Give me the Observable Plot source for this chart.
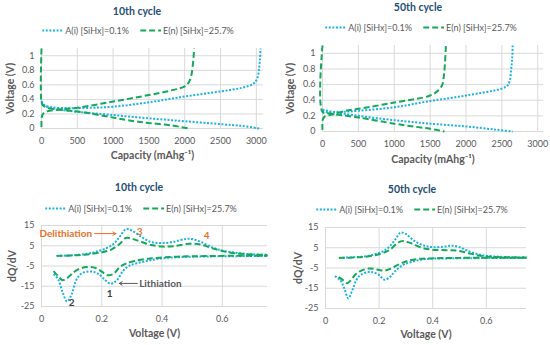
<!DOCTYPE html>
<html><head><meta charset="utf-8">
<script src="https://cdn.jsdelivr.net/npm/d3@7"></script>
<script src="https://cdn.jsdelivr.net/npm/@observablehq/plot@0.6"></script>
<style>
body{margin:0;background:#fff;font-family:Lato,"Noto Sans",sans-serif;}
#root{position:relative;width:550px;height:345px;overflow:hidden;background:#fff;}
.title{position:absolute;font-weight:bold;color:#1f4e79;font-size:10.5px;transform:translate(-50%,-50%);white-space:nowrap}
.legend{position:absolute;display:flex;align-items:center;font-size:9px;color:#595959;white-space:nowrap;transform:translate(-50%,-50%)}
.legend svg{margin-right:2px}
.legend .gap{display:inline-block;width:11px}
.wrap{position:absolute}
</style></head><body><div id="root"></div>
<script>
// ---------------- data ----------------
const seriesNames = ["A(i) [SiHx]=0.1%", "E(n) [SiHx]=25.7%"];
const colors = ["#1bb2e8", "#14a85a"];
const titles = ["10th cycle", "50th cycle", "10th cycle", "50th cycle"];

// Voltage profiles: [capacity mAh/g, voltage V]
const A_lith10 = [[0,0.38],[30,0.33],[100,0.29],[250,0.26],[500,0.23],[1000,0.185],[1500,0.14],[2000,0.1],[2500,0.06],[2800,0.035],[3040,0]];
const A_delith10 = [[0,0.37],[40,0.32],[150,0.29],[400,0.28],[700,0.285],[1000,0.3],[1500,0.36],[2000,0.44],[2500,0.51],[2800,0.56],[2950,0.61],[3010,0.68],[3035,0.8],[3050,0.95],[3060,1.1]];
const E_lith10 = [[0,1.1],[0,0.36],[20,0.32],[100,0.28],[300,0.255],[600,0.22],[1000,0.15],[1300,0.1],[1500,0.075],[1800,0.045],[2050,0]];
const E_delith10 = [[0,0.02],[3,0.15],[20,0.2],[80,0.235],[250,0.26],[500,0.285],[1000,0.37],[1500,0.46],[1800,0.52],[2000,0.58],[2060,0.64],[2090,0.72],[2110,0.85],[2125,1.0],[2130,1.1]];

const A_lith50 = [[0,0.28],[100,0.26],[500,0.2],[1000,0.145],[1500,0.1],[2000,0.065],[2400,0.025],[2650,0]];
const A_delith50 = [[0,0.27],[50,0.25],[250,0.25],[500,0.265],[1000,0.31],[1500,0.39],[2000,0.46],[2500,0.55],[2580,0.59],[2610,0.65],[2630,0.8],[2645,0.95],[2650,1.1]];
const E_lith50 = [[0,1.1],[0,0.25],[100,0.23],[500,0.18],[1000,0.1],[1300,0.06],[1500,0.035],[1700,0]];
const E_delith50 = [[0,0.02],[3,0.15],[30,0.19],[150,0.22],[300,0.26],[500,0.29],[1000,0.37],[1500,0.46],[1620,0.53],[1670,0.6],[1690,0.7],[1705,0.85],[1720,1.1]];

// Differential capacity: [voltage V, dQ/dV]
const A_del10 = [[0.05,0],[0.1,0.3],[0.15,1],[0.18,2],[0.21,3.5],[0.24,6],[0.26,9.5],[0.28,13.2],[0.3,12.5],[0.33,9.5],[0.36,7],[0.4,6.3],[0.44,7],[0.48,8.4],[0.5,8.3],[0.53,6.8],[0.57,4],[0.6,2.6],[0.65,1.4],[0.7,0.8],[0.75,0.6]];
const E_del10 = [[0.05,0],[0.1,0.2],[0.15,0.7],[0.2,1.8],[0.23,3],[0.26,6],[0.28,8.8],[0.3,8.5],[0.33,7],[0.36,5.5],[0.4,4.6],[0.44,4.8],[0.49,6],[0.53,5.5],[0.57,3.6],[0.62,1.8],[0.68,0.8],[0.75,0.4]];
const A_lit10 = [[0.04,-9],[0.055,-11.5],[0.07,-18],[0.085,-22.5],[0.1,-19],[0.115,-12],[0.13,-9],[0.15,-7.8],[0.17,-7.8],[0.19,-9],[0.21,-11.8],[0.23,-13.8],[0.25,-12],[0.27,-7.5],[0.29,-5],[0.32,-3.5],[0.36,-2.2],[0.4,-1.2],[0.45,-0.7],[0.5,-0.4],[0.6,-0.2],[0.75,0]];
const E_lit10 = [[0.04,-7.5],[0.055,-10],[0.07,-12],[0.085,-11],[0.1,-9],[0.12,-6.8],[0.15,-5.5],[0.18,-6],[0.2,-7.8],[0.22,-9.6],[0.24,-8.8],[0.26,-5.5],[0.28,-3.8],[0.31,-2.5],[0.35,-1.5],[0.4,-0.8],[0.45,-0.4],[0.5,-0.2],[0.6,0],[0.75,0]];

const A_del50 = [[0.05,0],[0.1,0.3],[0.15,0.8],[0.2,2.5],[0.23,4.5],[0.26,9],[0.28,12.5],[0.3,11.8],[0.33,8.5],[0.37,6],[0.4,5.3],[0.44,5.5],[0.47,6],[0.5,5.3],[0.54,3],[0.58,1.5],[0.62,0.8],[0.7,0.3],[0.75,0.2]];
const E_del50 = [[0.05,0],[0.1,0.2],[0.15,0.6],[0.2,1.8],[0.24,4],[0.27,7.5],[0.29,8.3],[0.32,7.2],[0.36,5],[0.4,4],[0.45,3.8],[0.49,3.6],[0.53,2.5],[0.57,1.2],[0.62,0.5],[0.75,0.2]];
const A_lit50 = [[0.035,-9],[0.055,-11],[0.07,-15],[0.085,-20],[0.1,-16],[0.115,-11],[0.13,-8.5],[0.16,-7],[0.18,-7.2],[0.2,-8.5],[0.22,-10.8],[0.24,-9.5],[0.26,-6.5],[0.29,-3.5],[0.32,-2],[0.36,-0.8],[0.4,-0.4],[0.5,-0.2],[0.75,0]];
const E_lit50 = [[0.05,-9.5],[0.065,-11],[0.08,-12.5],[0.095,-11],[0.11,-8.5],[0.13,-6.5],[0.16,-5.3],[0.18,-5.4],[0.2,-6],[0.22,-6.3],[0.24,-5.5],[0.27,-3.5],[0.3,-1.8],[0.34,-0.6],[0.4,-0.2],[0.5,0],[0.75,0]];

// tick values
const capTicks = [0,500,1000,1500,2000,2500,3000];
const voltTicks = [0,0.2,0.4,0.6,0.8,1];
const dvTicksX = [0,0.2,0.4,0.6];
const dqTicks = [-25,-15,-5,5,15];

// annotations (10th cycle dQ/dV), in data units
const annoEnd = [{x:0.168, y:11, text:"Delithiation", color:"#e8702a"}];
const annoStart = [{x:0.324, y:-13.6, text:"Lithiation", color:"#595959"}];
const annoMid = [
  {x:0.326, y:12, text:"3", color:"#e8702a"},
  {x:0.548, y:10, text:"4", color:"#e8702a"},
  {x:0.226, y:-18.6, text:"1", color:"#404040"},
  {x:0.1, y:-23, text:"2", color:"#404040"}
];
const annoArrows = [
  {x1:0.176, y1:11, x2:0.247, y2:11, color:"#e8702a"},
  {x1:0.318, y1:-13.6, x2:0.258, y2:-13.6, color:"#595959"}
];

// ---------------- drawing ----------------
const dash = ["2 1.6", "6 3"];
const fmt = d => String(+d.toFixed(2));
const root = document.getElementById("root");

function addTitle(text, cx, cy){
  const t = document.createElement("div"); t.className="title"; t.textContent=text;
  t.style.left=cx+"px"; t.style.top=cy+"px"; root.appendChild(t);
}
function addLegend(cx, cy){
  const l = document.createElement("div"); l.className="legend";
  l.style.left=cx+"px"; l.style.top=cy+"px";
  seriesNames.forEach((n,i)=>{
    if(i>0){const g=document.createElement("span");g.className="gap";l.appendChild(g);}
    const s=d3.create("svg").attr("width",21).attr("height",6);
    s.append("line").attr("x1",0).attr("x2",21).attr("y1",3).attr("y2",3)
      .attr("stroke",colors[i]).attr("stroke-width",2).attr("stroke-dasharray",dash[i]);
    l.appendChild(s.node());
    const sp=document.createElement("span"); sp.textContent=n; l.appendChild(sp);
  });
  root.appendChild(l);
}
function lines(curves){
  return curves.map(([pts,i]) => Plot.line(pts, {x:d=>d[0], y:d=>d[1], stroke:colors[i], strokeWidth:2, strokeDasharray:dash[i], strokeLinecap:"butt", strokeLinejoin:"miter", curve:"catmull-rom"}));
}
function panel(cfg){
  const p = Plot.plot({
    width:cfg.w, height:cfg.h,
    marginLeft:cfg.ml, marginRight:cfg.mr, marginTop:cfg.mt, marginBottom:cfg.mb,
    x:{domain:cfg.xd}, y:{domain:cfg.yd},
    style:{fontFamily:"Lato, 'Noto Sans', sans-serif", fontSize:"9px", color:"#595959", background:"white"},
    marks:[
      Plot.gridX(cfg.xt, {stroke:"#d9d9d9", strokeOpacity:1}),
      Plot.gridY(cfg.yt, {stroke:"#d9d9d9", strokeOpacity:1}),
      Plot.axisX(cfg.xt, {tickSize:0, tickPadding:9, tickFormat:fmt, label:null}),
      Plot.axisY(cfg.yt, {tickSize:0, tickPadding:7, tickFormat:fmt, label:null}),
      ...lines(cfg.curves),
      ...(cfg.extra||[]),
      Plot.text([cfg.xl], {frameAnchor:"bottom", dy:cfg.xdy, textAnchor:"middle", lineAnchor:"middle", fontWeight:"bold", fontSize:10.5, fill:"#595959"}),
      Plot.text([cfg.yl], {frameAnchor:"left", dx:cfg.ydx, rotate:-90, textAnchor:"middle", lineAnchor:"middle", fontWeight:"bold", fontSize:10.5, fill:"#595959"})
    ]
  });
  const w = document.createElement("div"); w.className="wrap";
  w.style.left=cfg.left+"px"; w.style.top=cfg.top+"px";
  w.appendChild(p); root.appendChild(w);
}

const capLabel = "Capacity (mAhg⁻¹)";

// Panel 1
addTitle(titles[0], 137, 11); addLegend(138, 30);
panel({left:0, top:40, w:270, h:128, ml:41, mr:7, mt:8, mb:40, xd:[0,3100], yd:[0,1.1],
  xt:capTicks, yt:voltTicks, xl:capLabel, yl:"Voltage (V)", xdy:27, ydx:-31,
  curves:[[A_lith10,0],[A_delith10,0],[E_lith10,1],[E_delith10,1]]});
// Panel 2
addTitle(titles[1], 418, 7); addLegend(421, 27);
panel({left:275, top:38, w:275, h:132, ml:47, mr:7, mt:7, mb:39, xd:[0,3080], yd:[0,1.1],
  xt:capTicks, yt:voltTicks, xl:capLabel, yl:"Voltage (V)", xdy:28, ydx:-32,
  curves:[[A_lith50,0],[A_delith50,0],[E_lith50,1],[E_delith50,1]]});
// Panel 3
addTitle(titles[2], 139, 187); addLegend(141, 208);
panel({left:0, top:218, w:272, h:125, ml:41, mr:5, mt:7, mb:37, xd:[0,0.75], yd:[-25,15],
  xt:dvTicksX, yt:dqTicks, xl:"Voltage (V)", yl:"dQ/dV", xdy:27, ydx:-29,
  curves:[[A_del10,0],[A_lit10,0],[E_del10,1],[E_lit10,1]],
  extra:[
    Plot.arrow(annoArrows, {x1:"x1", y1:"y1", x2:"x2", y2:"y2", stroke:"color", strokeWidth:1, headLength:5}),
    Plot.text(annoEnd, {x:"x", y:"y", text:"text", fill:"color", textAnchor:"end", fontWeight:"bold", fontSize:10}),
    Plot.text(annoStart, {x:"x", y:"y", text:"text", fill:"color", textAnchor:"start", fontWeight:"bold", fontSize:10}),
    Plot.text(annoMid, {x:"x", y:"y", text:"text", fill:"color", textAnchor:"middle", fontWeight:"bold", fontSize:10})
  ]});
// Panel 4
addTitle(titles[3], 412, 189); addLegend(412, 209);
panel({left:275, top:220, w:270, h:125, ml:50, mr:19, mt:7, mb:37, xd:[0,0.75], yd:[-25,15],
  xt:dvTicksX, yt:dqTicks, xl:"Voltage (V)", yl:"dQ/dV", xdy:26, ydx:-27,
  curves:[[A_del50,0],[A_lit50,0],[E_del50,1],[E_lit50,1]]});
</script>
</body></html>
